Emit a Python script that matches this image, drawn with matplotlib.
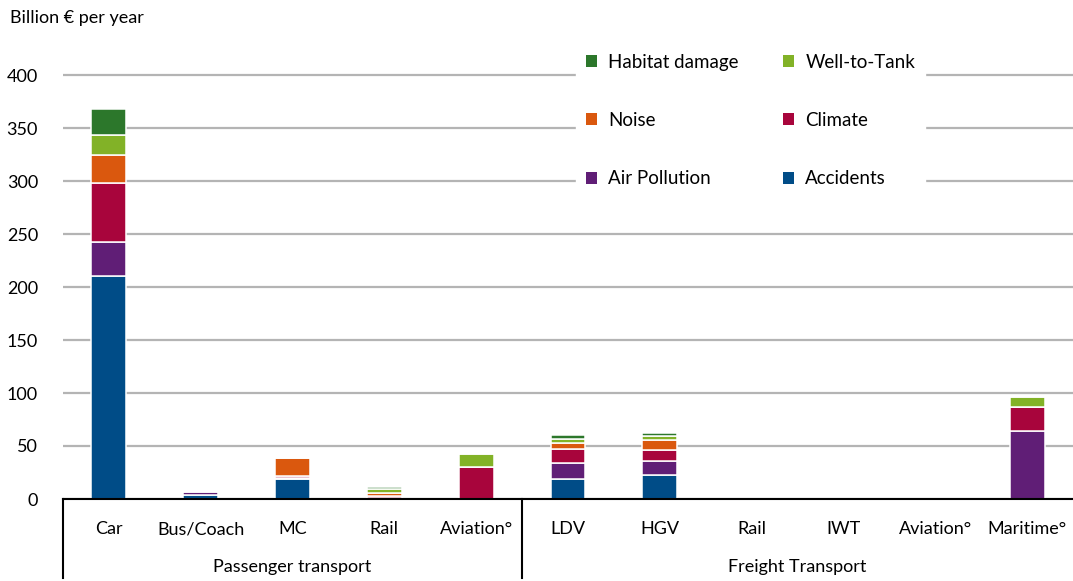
import numpy as np
import matplotlib
matplotlib.use("Agg")
import matplotlib.pyplot as plt

plt.rcParams["font.family"] = ["Lato", "DejaVu Sans"]

categories = ["Car", "Bus/Coach", "MC", "Rail", "Aviation°",
              "LDV", "HGV", "Rail", "IWT", "Aviation°", "Maritime°"]
groups = ["Passenger transport", "Freight Transport"]

# Billion € per year
accidents      = [210, 4.2, 19, 0.8, 0, 19, 22.5, 0, 0, 0, 0]
air_pollution  = [32, 2.8, 1, 0.6, 0, 14.5, 13, 0, 0, 0, 64]
climate        = [56, 0.6, 1.5, 1.2, 30, 14, 11, 0, 0, 0, 23]
noise          = [27, 0.4, 17, 3.4, 0, 5, 9, 0, 0, 0, 0]
well_to_tank   = [18, 0.4, 0, 3.0, 12, 4, 4, 0, 0, 0, 9.5]
habitat_damage = [25, 0.2, 0, 2.0, 0, 4, 3, 0, 0, 0, 0]

series = [
    ("Accidents", accidents, "#004C87"),
    ("Air Pollution", air_pollution, "#601E76"),
    ("Climate", climate, "#A8053C"),
    ("Noise", noise, "#DA580E"),
    ("Well-to-Tank", well_to_tank, "#82B227"),
    ("Habitat damage", habitat_damage, "#2C772B"),
]

fig = plt.figure(figsize=(10.73, 5.81), dpi=100)
ax = fig.add_axes([63 / 1073, 1 - 499 / 581, 1010 / 1073, 466.4 / 581])

x = np.arange(len(categories))
bottom = np.zeros(len(categories))
bars = {}
for name, vals, col in series:
    vals = np.array(vals, dtype=float)
    bars[name] = ax.bar(x, vals, 0.38, bottom=bottom, color=col,
                        edgecolor="white", linewidth=1.1, zorder=3)
    bottom += vals

ax.set_xlim(-0.5, len(categories) - 0.5)
ax.set_ylim(0, 440)
ax.set_yticks(range(0, 401, 50))
ax.yaxis.grid(True, color="#B4B4B4", linewidth=1.6, zorder=0)
ax.set_axisbelow(True)
ax.tick_params(axis="y", length=0, labelsize=13, pad=18)
ax.tick_params(axis="x", length=0, labelsize=13, pad=16)
ax.set_xticks(x)
ax.set_xticklabels(categories)
for s in ["top", "right", "left"]:
    ax.spines[s].set_visible(False)
ax.spines["bottom"].set_linewidth(1.5)
ax.spines["bottom"].set_zorder(4)

# group labels and separators below the axis
trans = ax.get_xaxis_transform()
for xs in [-0.5, 4.5]:
    ax.plot([xs, xs], [0, -0.17], color="black", lw=1.5,
            transform=trans, clip_on=False)
ax.text(2, -0.145, groups[0], transform=trans, ha="center", va="center", fontsize=13)
ax.text(7.5, -0.145, groups[1], transform=trans, ha="center", va="center", fontsize=13)

fig.text(10 / 1073, 1 - 18 / 581, "Billion € per year", fontsize=13, va="center")

order = ["Habitat damage", "Noise", "Air Pollution", "Well-to-Tank", "Climate", "Accidents"]
leg = ax.legend([bars[n] for n in order], order, ncol=2, loc="upper left",
                bbox_to_anchor=(567 / 1073, 1 - 35 / 581), bbox_transform=fig.transFigure,
                fontsize=13.5, frameon=True, fancybox=False, framealpha=1,
                edgecolor="white", facecolor="white", handlelength=0.6,
                handleheight=0.6, handletextpad=0.6, labelspacing=2.2,
                columnspacing=2.35, borderpad=0.5)
leg.set_zorder(5)
for h in leg.legend_handles:
    h.set_edgecolor("none")

fig.savefig("out.png", dpi=100)
